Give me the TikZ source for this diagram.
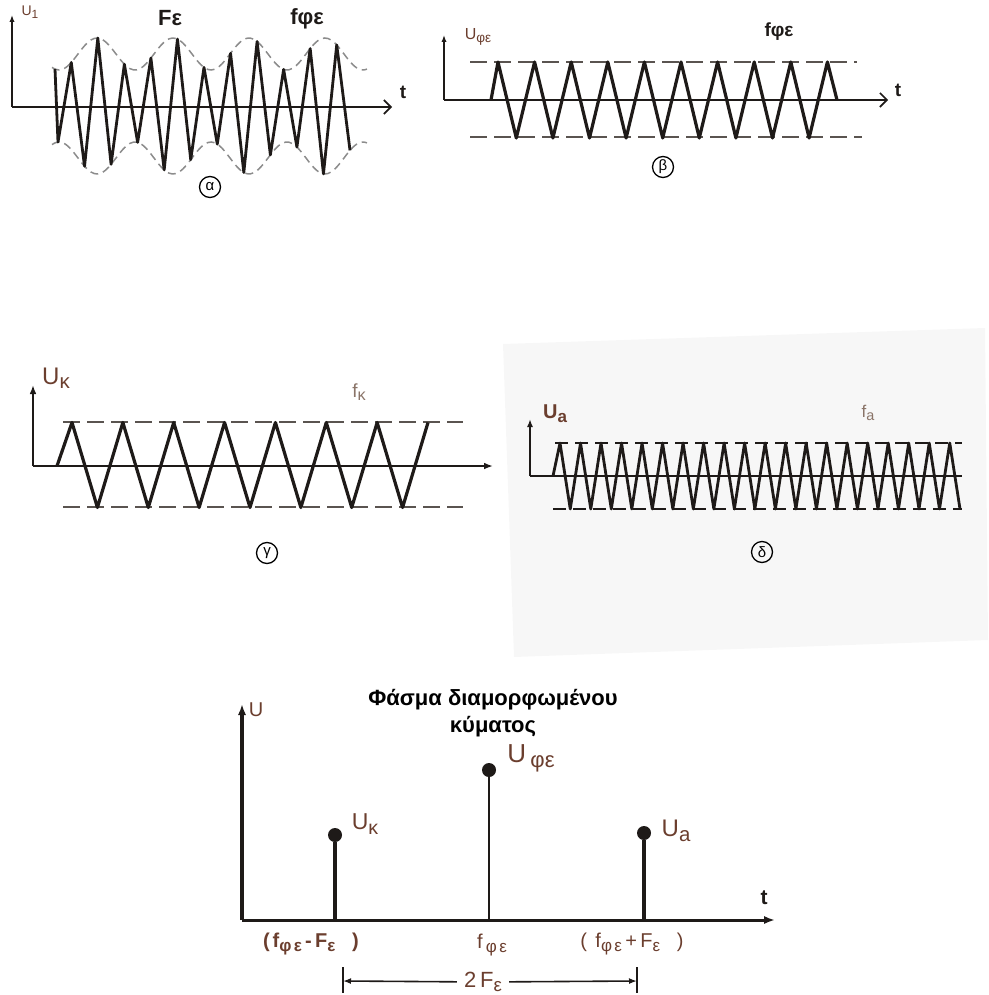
\documentclass[tikz,border=0pt]{standalone}
\usepackage{fontspec}
\setmainfont{Liberation Sans}
\usetikzlibrary{arrows.meta, positioning, calc}
\definecolor{mInk}{HTML}{1E1A18}
\definecolor{mBrown}{HTML}{6B3E2E}
\definecolor{mFaint}{HTML}{8A7468}
\definecolor{mDash}{HTML}{8C8C8C}
\definecolor{mDark}{HTML}{5A5450}
\definecolor{mPaper}{HTML}{F7F7F7}
\newcommand\low[1]{\raisebox{-0.35ex}{\scalebox{0.85}{#1}}}
\tikzset{
  wave/.style={mInk, line width=3.2pt, line join=round},
  envl/.style={mDash, line width=1.5pt, dash pattern=on 8pt off 5pt},
  rail/.style={mDark, line width=2pt, dash pattern=on 17pt off 7pt},
  axis/.style={mInk, line width=1.6pt},
  saxis/.style={mInk, line width=4pt},
  stem/.style={mInk, line width=3.5pt},
  dot/.style={circle, fill=mInk, minimum size=14pt, inner sep=0pt},
  lbl/.style={mBrown, inner sep=1pt},
  wide/.style={lbl, font=\fontsize{20}{20}\selectfont\addfontfeatures{LetterSpace=14}},
  widebold/.style={lbl, font=\bfseries\fontsize{20}{20}\selectfont\addfontfeatures{LetterSpace=14}},
  hdr/.style={mInk, inner sep=1pt, font=\bfseries\fontsize{19}{19}\selectfont},
  tag/.style={draw, circle, inner sep=0pt, minimum size=21pt, line width=1.3pt,
              font=\fontsize{15}{15}\selectfont},
}

\begin{document}
\begin{tikzpicture}[x=1pt, y=-1pt]
  \useasboundingbox (0,0) rectangle (988,995);
  \fill[mPaper] (503,344) -- (985,328) -- (988,640) -- (514,657) -- cycle;

  % (a) modulated carrier
  \coordinate (oa) at (12,107);
  \coordinate (ya) at (12,15);
  \coordinate (xa) at (392,107);
  \draw[axis, -{Latex[length=7pt]}] (oa) -- (ya);
  \draw[axis, -{Straight Barb[length=7pt]}] (oa) -- (xa);
  \draw[envl] plot[domain=52:367, samples=90, smooth] (\x, {106-(52+16*cos(4.7368*(\x-97)))});
  \draw[envl] plot[domain=52:367, samples=90, smooth] (\x, {106+(52+16*cos(4.7368*(\x-97)))});
  \draw[wave, line width=2.8pt] (55,69) -- plot[domain=58:350, samples=23]
    (\x, {106+(52+16*cos(4.7368*(\x-97)))*cos(13.5617*(\x-58))});
  \node[lbl, font=\fontsize{14}{14}\selectfont] (ua) at (30,12) {U\low{1}};
  \node[hdr, font=\bfseries\fontsize{22}{22}\selectfont] (fe) at (170,18) {Fε};
  \node[hdr, font=\bfseries\fontsize{22}{22}\selectfont] (fca) at (307,19) {fφε};
  \node[hdr] (ta) at (403,92) {t};
  \node[tag] (tga) at (210,187) {α};

  % (b) carrier
  \coordinate (ob) at (444,100);
  \coordinate (yb) at (444,35);
  \coordinate (xb) at (888,100);
  \draw[axis, -{Latex[length=7pt]}] (ob) -- (yb);
  \draw[axis, -{Straight Barb[length=7pt]}] (ob) -- (xb);
  \draw[rail] (470,62) -- (857,62);
  \draw[rail] (470,137) -- (862,137);
  \draw[wave] (491,100) -- plot[domain=498:827.4, samples=19]
    (\x, {100-38*cos(9.8361*(\x-498))}) -- (837,100);
  \node[lbl, font=\fontsize{16}{16}\selectfont] (ub) at (478,37) {U\low{φε}};
  \node[hdr] (fcb) at (779,32) {fφε};
  \node[hdr] (tb) at (898,90) {t};
  \node[tag] (tgb) at (663,167) {β};

  % (c) lower side frequency
  \coordinate (oc) at (33,466);
  \coordinate (yc) at (33,385);
  \coordinate (xc) at (493,466);
  \draw[axis, -{Latex[length=9pt]}] (oc) -- (yc);
  \draw[axis, -{Latex[length=9pt]}] (oc) -- (xc);
  \draw[rail] (63,422) -- (463,422);
  \draw[rail] (63,507) -- (463,507);
  \draw[wave] (57,466) -- plot[domain=72:428, samples=15]
    (\x, {465-42.5*cos(7.0787*(\x-72))});
  \node[lbl, font=\fontsize{24}{24}\selectfont] (uc) at (56,378) {U\low{κ}};
  \node[lbl, mFaint, font=\fontsize{19}{19}\selectfont] (fk) at (359,392) {f\low{κ}};
  \node[tag] (tgc) at (267,553) {γ};

  % (d) upper side frequency
  \coordinate (od) at (530,476);
  \coordinate (yd) at (530,419);
  \coordinate (xd) at (962,476);
  \draw[axis, -{Latex[length=8pt]}] (od) -- (yd);
  \draw[axis] (od) -- (xd);
  \draw[rail, mInk, dash pattern=on 13pt off 7pt] (555,443) -- (962,443);
  \draw[rail, mInk, dash pattern=on 13pt off 7pt] (553,509) -- (962,509);
  \draw[wave, line width=2.8pt] (553,476) -- plot[domain=560:960, samples=40]
    (\x, {476-33*cos(17.55*(\x-560))});
  \node[lbl, font=\bfseries\fontsize{20}{20}\selectfont] (ud) at (555,414) {U\low{a}};
  \node[lbl, mFaint, font=\fontsize{17}{17}\selectfont] (fa) at (868,413) {f\low{a}};
  \node[tag] (tgd) at (762,552) {δ};

  % spectrum
  \coordinate (so) at (242,920);
  \coordinate (sy) at (242,704);
  \coordinate (sx) at (775,920);
  \draw[saxis, -{Latex[length=11pt]}] (so) -- (sy);
  \draw[axis, line width=3pt, -{Latex[length=11pt]}] (so) -- (sx);
  \node[lbl, font=\fontsize{20}{20}\selectfont] (su) at (256,710) {U};
  \node[hdr, font=\bfseries\fontsize{21}{21}\selectfont] (st) at (764,898) {t};
  \node[align=center, font=\bfseries\fontsize{22}{27}\selectfont] (title) at (493,713)
    {Φάσμα διαμορφωμένου\\κύματος};

  \coordinate (kb) at (335,920);
  \coordinate (cb) at (489,920);
  \coordinate (ab) at (644,920);
  \node[dot] (kd) at (335,835) {};
  \node[dot] (cd) at (489,770) {};
  \node[dot] (ad) at (644,833) {};
  \draw[stem] (kb) -- (kd);
  \draw[stem, line width=2.6pt] (cb) -- (cd);
  \draw[stem] (ab) -- (ad);
  \node[lbl, font=\fontsize{23}{23}\selectfont] (uk) at (365,824) {U\low{κ}};
  \node[lbl, font=\fontsize{26}{26}\selectfont] (uf) at (531,758) {U\,\low{φε}};
  \node[lbl, font=\fontsize{24}{24}\selectfont] (uu) at (676,831) {U\low{a}};

  \node[widebold] (fl) at (311,944) {(f\low{φε}\,-\,F\low{ε}\ \ )};
  \node[wide] (fc) at (492,945) {f\,\low{φε}};
  \node[wide] (fu) at (632,944) {(\ f\low{φε}\,+\,F\low{ε}\ \ )};

  \coordinate (lt) at (343,967);
  \coordinate (lb) at (343,993);
  \coordinate (rt) at (637,967);
  \coordinate (rb) at (637,993);
  \coordinate (lm) at (343,981);
  \coordinate (rm) at (637,981);
  \draw[axis] (lt) -- (lb);
  \draw[axis] (rt) -- (rb);
  \node[lbl, inner sep=7pt, font=\fontsize{22}{22}\selectfont] (span) at (483,982) {2\,F\low{ε}};
  \draw[axis, -{Latex[length=8pt]}] (span) -- (lm);
  \draw[axis, -{Latex[length=8pt]}] (span) -- (rm);
\end{tikzpicture}
\end{document}
